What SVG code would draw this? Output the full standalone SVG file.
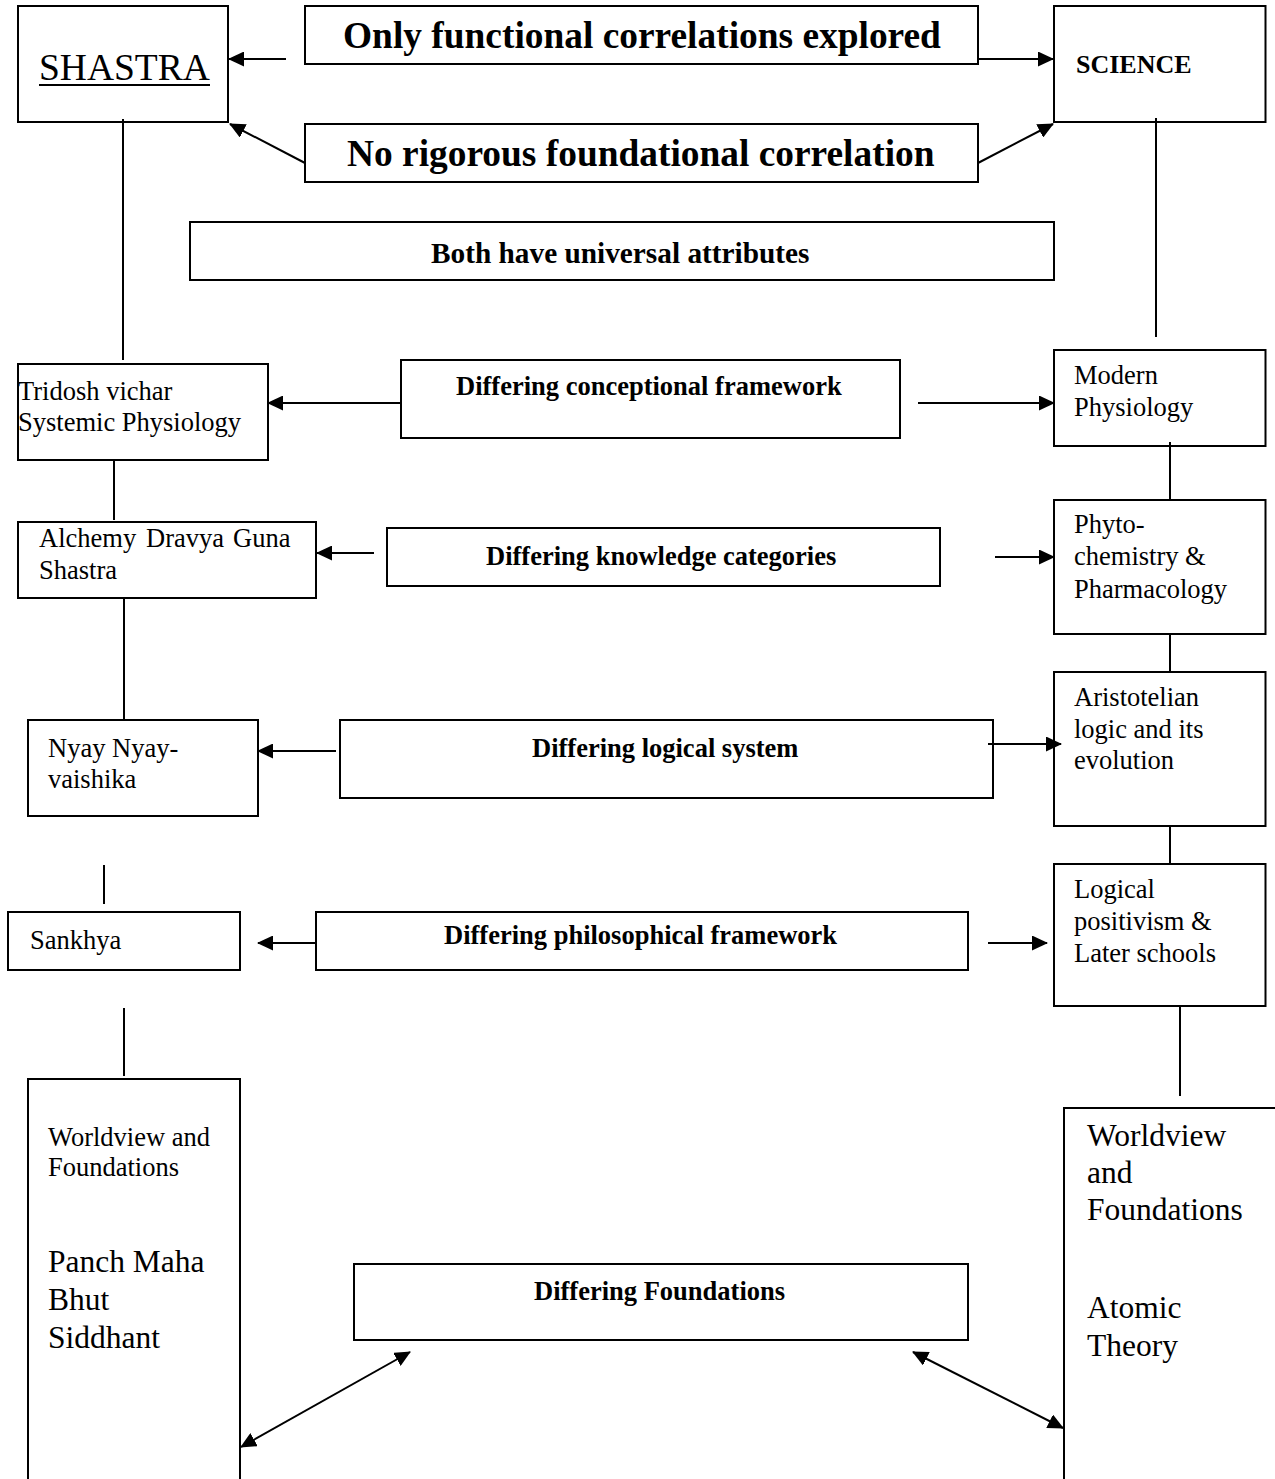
<svg xmlns="http://www.w3.org/2000/svg" width="1275" height="1479" viewBox="0 0 1275 1479">
<style>
.box{fill:none;stroke:#000;stroke-width:2}
.ln{fill:none;stroke:#000;stroke-width:2}
.ar{fill:none;stroke:#000;stroke-width:2;marker-end:url(#ah)}
.da{fill:none;stroke:#000;stroke-width:2;marker-start:url(#ah);marker-end:url(#ah)}
text{font-family:"Liberation Serif","Times New Roman",serif;fill:#000}
.big{font-size:37.4px;font-weight:bold}
.lbl{font-size:26.5px;font-weight:bold}
.reg{font-size:26.5px}
.lg{font-size:31.5px}
</style>
<defs>
<marker id="ah" markerUnits="userSpaceOnUse" markerWidth="16" markerHeight="15" viewBox="0 0 16 15" refX="15" refY="7.5" orient="auto-start-reverse">
<path d="M0,0 L16,7.5 L0,15 z" fill="#000"/>
</marker>
</defs>
<rect width="1275" height="1479" fill="#fff"/>

<g id="connectors">
<line class="ar" x1="286" y1="59" x2="229" y2="59"/>
<line class="ar" x1="978" y1="59" x2="1053" y2="59"/>
<line class="ar" x1="305" y1="163" x2="230" y2="124"/>
<line class="ar" x1="978" y1="163" x2="1053" y2="124"/>
<line class="ln" x1="123" y1="119" x2="123" y2="360"/>
<line class="ln" x1="1156" y1="118" x2="1156" y2="337"/>
<line class="ar" x1="401" y1="403" x2="268" y2="403"/>
<line class="ar" x1="918" y1="403" x2="1054" y2="403"/>
<line class="ln" x1="114" y1="460" x2="114" y2="520"/>
<line class="ln" x1="1170" y1="442" x2="1170" y2="500"/>
<line class="ar" x1="374" y1="553" x2="317" y2="553"/>
<line class="ar" x1="995" y1="557" x2="1054" y2="557"/>
<line class="ln" x1="124" y1="598" x2="124" y2="720"/>
<line class="ln" x1="1170" y1="634" x2="1170" y2="672"/>
<line class="ar" x1="336" y1="751" x2="258" y2="751"/>
<line class="ar" x1="988" y1="744" x2="1061" y2="744"/>
<line class="ln" x1="1170" y1="826" x2="1170" y2="864"/>
<line class="ln" x1="104" y1="865" x2="104" y2="904"/>
<line class="ar" x1="316" y1="943" x2="258" y2="943"/>
<line class="ar" x1="988" y1="943" x2="1047" y2="943"/>
<line class="ln" x1="124" y1="1008" x2="124" y2="1076"/>
<line class="ln" x1="1180" y1="1006" x2="1180" y2="1096"/>
<line class="da" x1="241" y1="1447" x2="410" y2="1352"/>
<line class="da" x1="913" y1="1352" x2="1063" y2="1428"/>
</g>

<g id="shastra">
<rect class="box" x="18" y="6" width="210" height="116"/>
<text x="39" y="80" style="font-size:37.5px">SHASTRA</text>
<line x1="39" y1="85" x2="210" y2="85" stroke="#000" stroke-width="2"/>
</g>

<g id="functional">
<rect class="box" x="305" y="6" width="673" height="58"/>
<text class="big" x="343" y="48">Only functional correlations explored</text>
</g>

<g id="science">
<rect class="box" x="1054" y="6" width="211.5" height="116"/>
<text x="1076" y="73" style="font-size:26px;font-weight:bold">SCIENCE</text>
</g>

<g id="foundational">
<rect class="box" x="305" y="124" width="673" height="58"/>
<text class="big" x="347" y="166">No rigorous foundational correlation</text>
</g>

<g id="universal">
<rect class="box" x="190" y="222" width="864" height="58"/>
<text x="431" y="263" style="font-size:29.3px;font-weight:bold">Both have universal attributes</text>
</g>

<g id="tridosh">
<rect class="box" x="18" y="364" width="250" height="96"/>
<text class="reg" x="18" y="400">Tridosh vichar</text>
<text class="reg" x="18" y="431">Systemic Physiology</text>
</g>

<g id="conceptional">
<rect class="box" x="401" y="360" width="499" height="78"/>
<text class="lbl" x="456" y="395">Differing conceptional framework</text>
</g>

<g id="modern">
<rect class="box" x="1054" y="350" width="211.5" height="96"/>
<text class="reg" x="1074" y="384">Modern</text>
<text class="reg" x="1074" y="416">Physiology</text>
</g>

<g id="alchemy">
<rect class="box" x="18" y="522" width="298" height="76"/>
<text class="reg" y="547"><tspan x="39">Alchemy</tspan><tspan x="146">Dravya</tspan><tspan x="233">Guna</tspan></text>
<text class="reg" x="39" y="579">Shastra</text>
</g>

<g id="knowledge">
<rect class="box" x="387" y="528" width="553" height="58"/>
<text class="lbl" x="486" y="565">Differing knowledge categories</text>
</g>

<g id="phyto">
<rect class="box" x="1054" y="500" width="211.5" height="134"/>
<text class="reg" x="1074" y="533">Phyto-</text>
<text class="reg" x="1074" y="565">chemistry &amp;</text>
<text class="reg" x="1074" y="598">Pharmacology</text>
</g>

<g id="nyay">
<rect class="box" x="28" y="720" width="230" height="96"/>
<text class="reg" x="48" y="757">Nyay Nyay-</text>
<text class="reg" x="48" y="788">vaishika</text>
</g>

<g id="logical">
<rect class="box" x="340" y="720" width="653" height="78"/>
<text class="lbl" x="532" y="757">Differing logical system</text>
</g>

<g id="aristotelian">
<rect class="box" x="1054" y="672" width="211.5" height="154"/>
<text class="reg" x="1074" y="706">Aristotelian</text>
<text class="reg" x="1074" y="738">logic and its</text>
<text class="reg" x="1074" y="769">evolution</text>
</g>

<g id="sankhya">
<rect class="box" x="8" y="912" width="232" height="58"/>
<text class="reg" x="30" y="949">Sankhya</text>
</g>

<g id="philosophical">
<rect class="box" x="316" y="912" width="652" height="58"/>
<text class="lbl" x="444" y="944">Differing philosophical framework</text>
</g>

<g id="positivism">
<rect class="box" x="1054" y="864" width="211.5" height="142"/>
<text class="reg" x="1074" y="898">Logical</text>
<text class="reg" x="1074" y="930">positivism &amp;</text>
<text class="reg" x="1074" y="962">Later schools</text>
</g>

<g id="panch">
<path class="box" d="M28,1481 V1079 H240 V1481"/>
<text class="reg" x="48" y="1146">Worldview and</text>
<text class="reg" x="48" y="1176">Foundations</text>
<text class="lg" x="48" y="1272">Panch Maha</text>
<text class="lg" x="48" y="1310">Bhut</text>
<text class="lg" x="48" y="1348">Siddhant</text>
</g>

<g id="foundations">
<rect class="box" x="354" y="1264" width="614" height="76"/>
<text class="lbl" x="534" y="1300">Differing Foundations</text>
</g>

<g id="atomic">
<path class="box" d="M1064,1481 V1108 H1277"/>
<text class="lg" x="1087" y="1146">Worldview</text>
<text class="lg" x="1087" y="1183">and</text>
<text class="lg" x="1087" y="1220">Foundations</text>
<text class="lg" x="1087" y="1318">Atomic</text>
<text class="lg" x="1087" y="1356">Theory</text>
</g>
</svg>
